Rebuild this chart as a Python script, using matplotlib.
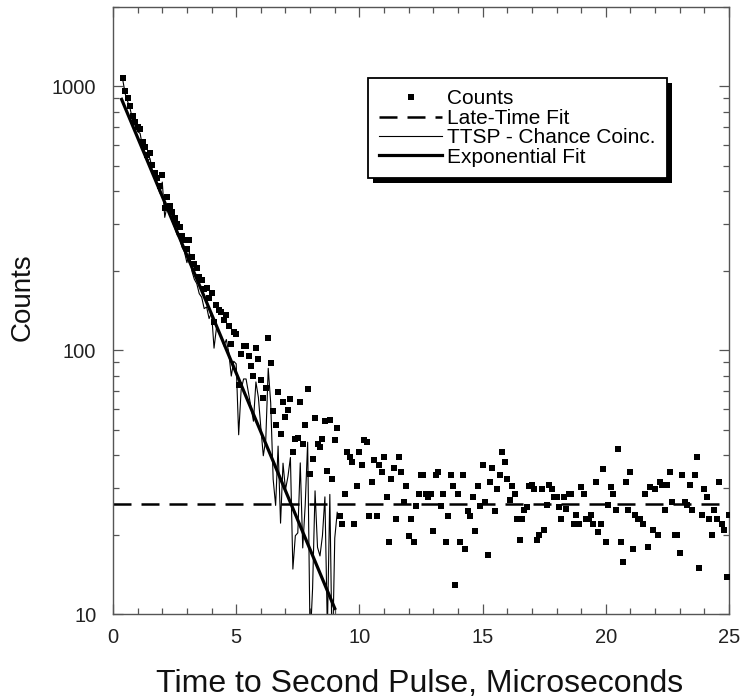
import numpy as np
import matplotlib
matplotlib.use('Agg')
import matplotlib.pyplot as plt
from matplotlib.ticker import FixedLocator, MultipleLocator, LogLocator, NullFormatter, FormatStrFormatter
from matplotlib.patches import Rectangle

plt.rcParams['font.family'] = ['Liberation Sans', 'DejaVu Sans']

# ---- data ----
time_start = 0.4      # microseconds, first bin
time_step = 0.1       # bin width, microseconds

counts = [
    1080, 960, 900, 845, 770, 735,                               # 0.4-0.9
    700, 690, 615, 590, 548, 560, 505, 470, 450, 420,            # 1.x
    460, 345, 380, 352, 335, 318, 300, 292, 272, 262,            # 2.x
    241, 262, 226, 212, 205, 190, 185, 170, 172, 158,            # 3.x
    165, 128, 148, 142, 139, 130, 136, 124, 106, 117,            # 4.x
    115, 74, 97, 104, 104, 95, 87, 80, 102, 92.5,                # 5.x
    77, 66, 72, 111.6, 89.3, 58.6, 52, 69.5, 48.3, 63.5,         # 6.x
    55.8, 59.4, 65.4, 41.0, 46.0, 46.5, 63.6, 44.0, 52.0, 71.0,  # 7.x
    34.0, 38.7, 55.5, 44.1, 42.8, 46.0, 54.0, 34.9, 54.6, 32.5,  # 8.x
    45.6, 50.5, 23.5, 21.9, 28.5, 41.2, 39.5, 37.8, 21.9, 30.6,  # 9.x
    41.2, 36.7, 45.6, 44.9, 23.5, 31.7, 38.5, 23.5, 36.7, 34.6,  # 10.x
    39.5, 27.7, 18.8, 32.5, 35.9, 22.9, 39.5, 34.6, 26.6, 30.6,  # 11.x
    19.8, 22.9, 18.8, 25.7, 28.5, 33.6, 33.6, 28.5, 27.7, 28.5,  # 12.x
    20.7, 33.6, 34.6, 25.7, 28.5, 18.8, 23.5, 33.6, 30.6, 12.9,  # 13.x
    28.5, 18.8, 33.6, 17.7, 24.6, 23.5, 27.7, 20.7, 30.6, 25.7,  # 14.x
    36.7, 26.6, 16.7, 31.7, 35.9, 24.6, 29.9, 33.6, 41.2, 37.8,  # 15.x
    32.5, 27.0, 30.6, 28.5, 22.9, 19.0, 23.0, 24.8, 25.4, 30.6,  # 16.x
    30.8, 29.9, 19.1, 19.9, 29.9, 20.8, 26.0, 30.8, 29.9, 27.8,  # 17.x
    27.8, 25.5, 23.0, 27.8, 25.0, 28.6, 28.6, 22.0, 23.7, 22.0,  # 18.x
    30.4, 28.6, 23.0, 23.0, 23.7, 22.0, 31.7, 20.5, 22.0, 35.6,  # 19.x
    18.8, 25.9, 30.4, 28.6, 24.8, 42.4, 18.8, 15.8, 31.7, 24.8,  # 20.x
    34.6, 17.7, 23.7, 23.0, 23.0, 22.0, 28.6, 18.0, 30.4, 20.8,  # 21.x
    29.9, 19.9, 31.7, 30.8, 24.8, 30.8, 34.6, 26.6, 19.9, 19.9,  # 22.x
    17.0, 33.6, 26.6, 25.9, 30.8, 24.8, 33.6, 39.5, 14.9, 23.7,  # 23.x
    29.9, 27.8, 23.0, 19.9, 24.8, 23.0, 31.7, 22.0, 20.8, 13.8,  # 24.x
    23.7,                                                        # 25.0
]

late_time_level = 26.2          # chance-coincidence (late-time) fit
fit_t = [0.35, 9.0]             # exponential fit end points
fit_counts = [893, 10.5]
ttsp_end = 9.1                  # TTSP - chance curve drawn up to here

labels = ['Counts', 'Late-Time Fit', 'TTSP - Chance Coinc.', 'Exponential Fit']
x_ticks = [0, 5, 10, 15, 20, 25]
y_ticks = [10, 100, 1000]

# ---- derived ----
time = np.round(time_start + time_step * np.arange(len(counts)), 1)
counts_arr = np.array(counts, dtype=float)
sel = time <= ttsp_end + 1e-9
ttsp = counts_arr[sel] - late_time_level

# ---- figure ----
fig = plt.figure(figsize=(7.4, 7.0), dpi=100)
ax = fig.add_axes([113 / 740, 86 / 700, 616 / 740, 607 / 700])
ax.set_yscale('log')
ax.set_xlim(0, 25)
ax.set_ylim(10, 2000)

h_late, = ax.plot([0, 25], [late_time_level, late_time_level], color='k', lw=1.8,
                  ls=(0, (7.2, 4.0)), zorder=2)
h_ttsp, = ax.plot(time[sel], ttsp, color='k', lw=0.8, zorder=2.5)
h_fit, = ax.plot(fit_t, fit_counts, color='k', lw=2.3, zorder=3)
h_counts, = ax.plot(time, counts_arr, ls='none', marker='s', ms=3.7, mew=0,
                    color='k', zorder=4)

spine_col = '#555555'
for s in ax.spines.values():
    s.set_color(spine_col)
    s.set_linewidth(1.0)

ax.xaxis.set_major_locator(FixedLocator(x_ticks))
ax.xaxis.set_minor_locator(MultipleLocator(1))
ax.yaxis.set_major_locator(FixedLocator(y_ticks))
ax.yaxis.set_major_formatter(FormatStrFormatter('%d'))
ax.yaxis.set_minor_locator(LogLocator(base=10, subs=np.arange(2, 10)))
ax.yaxis.set_minor_formatter(NullFormatter())

ax.tick_params(which='both', direction='in', top=True, right=True,
               color=spine_col, width=0.9, labelsize=14.5, labelcolor='#222222')
ax.tick_params(which='major', length=7)
ax.tick_params(which='minor', length=4)
ax.tick_params(axis='x', pad=10)
ax.tick_params(axis='y', pad=12)

fig.text(23 / 740, 1 - 297 / 700, 'Counts', rotation=90, fontsize=20,
         ha='center', va='center', color='#111111')
fig.text(420 / 740, 1 - 692 / 700, 'Time to Second Pulse, Microseconds',
         fontsize=23, ha='center', va='baseline', color='#111111')

leg = ax.legend(handles=[h_counts, h_late, h_ttsp, h_fit], labels=labels,
                loc='upper left', bbox_to_anchor=(0.414, 0.70, 0.485, 0.183),
                mode='expand', borderaxespad=0, fontsize=15, labelspacing=0.02,
                handlelength=3.0, handletextpad=0.25, borderpad=0.55,
                frameon=True, fancybox=False, framealpha=1, numpoints=1)
leg.get_frame().set_edgecolor('k')
leg.get_frame().set_linewidth(1.3)
leg.set_zorder(6)

fig.canvas.draw()
bb = leg.get_window_extent()
W, H = fig.bbox.width, fig.bbox.height
off = 5
shadow = Rectangle(((bb.x0 + off) / W, (bb.y0 - off) / H), bb.width / W, bb.height / H,
                   transform=fig.transFigure, facecolor='k', edgecolor='none',
                   clip_on=False, zorder=5.5)
ax.add_patch(shadow)

fig.savefig('out.png', dpi=100)
